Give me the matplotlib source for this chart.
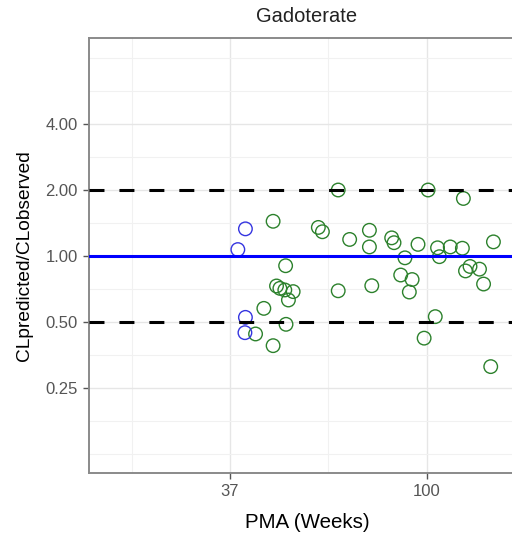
import matplotlib
matplotlib.use("Agg")
import matplotlib.pyplot as plt
from matplotlib.ticker import FixedLocator, NullFormatter
import numpy as np

plt.rcParams["font.family"] = ["Liberation Sans", "DejaVu Sans"]

# data
pma_blue = [40.0, 38.5, 40.0, 39.9]
ratio_blue = [1.33, 1.07, 0.525, 0.447]

pma_green = [46.0, 49.0, 46.8, 47.6, 48.8, 50.9, 49.7, 43.9, 49.1, 42.1,
             46.0, 57.8, 59.0, 63.9, 63.9, 67.7, 74.8, 74.8, 75.7, 83.7,
             84.7, 89.5, 87.6, 92.8, 91.5, 95.6, 100.6, 105.5, 106.5, 112.5,
             119.6, 120.2, 104.3, 98.6, 124.3, 121.5, 130.4, 133.1, 139.9, 138.0]
ratio_green = [1.44, 0.903, 0.730, 0.712, 0.700, 0.688, 0.630, 0.577, 0.488, 0.441,
               0.390, 1.35, 1.29, 2.0, 0.694, 1.19, 1.31, 1.10, 0.732, 1.21,
               1.15, 0.981, 0.819, 0.781, 0.685, 1.13, 2.0, 1.09, 0.993, 1.10,
               1.085, 1.83, 0.529, 0.422, 0.896, 0.855, 0.871, 0.745, 1.16, 0.313]

x_breaks = [37, 100]
y_breaks = [0.25, 0.5, 1, 2, 4]
y_labels = ["0.25", "0.50", "1.00", "2.00", "4.00"]

fig = plt.figure(figsize=(5.12, 5.33), dpi=100)
ax = fig.add_axes([89 / 512, 60 / 533, 437 / 512, 435 / 533])
ax.set_xscale("log")
ax.set_yscale("log")
ax.set_xlim(18.16, 164.9)
ax.set_ylim(0.1024, 9.87)

# ggplot-style minor breaks: midpoints in transformed space
yb = np.log2([0.125] + y_breaks + [8])
y_minor = 2 ** np.concatenate([yb, (yb[:-1] + yb[1:]) / 2])
xb = np.log10(x_breaks)
step = xb[1] - xb[0]
x_minor = 10 ** np.array([xb[0] - step / 2, xb[0] + step / 2, xb[1] + step / 2])

ax.xaxis.set_major_locator(FixedLocator(x_breaks))
ax.set_xticklabels([str(v) for v in x_breaks])
ax.xaxis.set_minor_locator(FixedLocator(x_minor))
ax.xaxis.set_minor_formatter(NullFormatter())
ax.yaxis.set_major_locator(FixedLocator(y_breaks))
ax.set_yticklabels(y_labels)
ax.yaxis.set_minor_locator(FixedLocator(y_minor))
ax.yaxis.set_minor_formatter(NullFormatter())

ax.grid(which="major", color="#e6e6e6", linewidth=1.0)
ax.grid(which="minor", color="#f1f1f1", linewidth=0.8)
ax.set_axisbelow(True)

ax.tick_params(which="major", length=4, width=1, color="#555555",
               labelsize=12, labelcolor="#555555", pad=4)
ax.tick_params(which="minor", length=0)

for s in ["left", "bottom", "top"]:
    ax.spines[s].set_color("#8a8a8a")
    ax.spines[s].set_linewidth(1.4)
ax.spines["right"].set_visible(False)

ax.scatter(pma_green, ratio_green, s=95, facecolors="none",
           edgecolors="#2c812c", linewidths=1.0, zorder=3)
ax.scatter(pma_blue, ratio_blue, s=95, facecolors="none",
           edgecolors="#3535e0", linewidths=1.0, zorder=3)

ax.axhline(1, color="#0000ff", linewidth=2.2, zorder=4)
for v in [2, 0.5]:
    ax.axhline(v, color="black", linewidth=2.2, dashes=(4.9, 4.9), zorder=4)

ax.set_xlabel("PMA (Weeks)", fontsize=14.8, labelpad=10)
ax.set_ylabel("CLpredicted/CLobserved", fontsize=13.8, labelpad=9)
fig.text(307 / 512, 1 - 17 / 533, "Gadoterate", ha="center", va="center",
         fontsize=14.5, color="#222222")

fig.savefig("out.png", dpi=100)
